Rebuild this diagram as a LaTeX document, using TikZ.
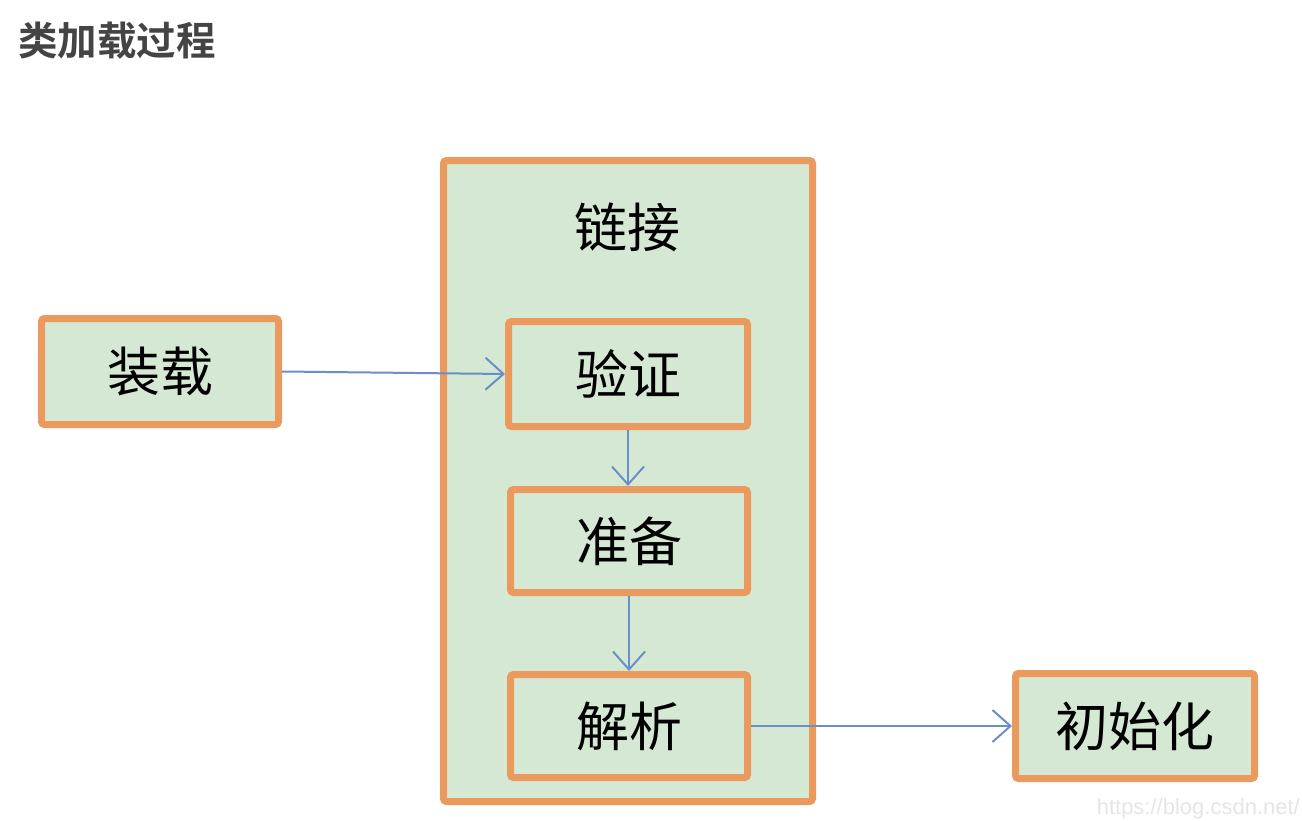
\documentclass[tikz,border=0pt]{standalone}
\usepackage{fontspec}
\newfontfamily\cjk{Noto Sans CJK SC}
\newfontfamily\cjkb{Noto Sans CJK SC Bold}
\setsansfont{Liberation Sans}
\usetikzlibrary{arrows.meta}
\definecolor{boxorange}{HTML}{EB9A5E}
\definecolor{boxfill}{HTML}{D5E8D4}
\definecolor{arrowblue}{HTML}{6A8FC8}
\definecolor{titlegray}{HTML}{444444}
\tikzset{
  stage/.style={draw=boxorange, fill=boxfill, line width=7pt, rounded corners=3pt,
    inner sep=0pt, font=\cjk\fontsize{53}{56}\selectfont, text=black},
  flow/.style={draw=arrowblue, line width=2pt, -{Straight Barb[length=18pt,width=32pt,line width=2pt]}},
}
\begin{document}
\begin{tikzpicture}[x=1pt,y=-1pt]
\useasboundingbox (0,0) rectangle (1302,820);
\node[anchor=west, text=titlegray, font=\cjkb\fontsize{39.5}{42}\selectfont, inner sep=0pt] (title) at (18,41) {类加载过程};
\node[stage, minimum width=369pt, minimum height=641pt] (link) at (628,481) {};
\node[font=\cjk\fontsize{53}{56}\selectfont, inner sep=0pt] (linklabel) at (627,227) {链接};
\node[stage, minimum width=237pt, minimum height=106pt] (load) at (160,371.5) {装载};
\node[stage, minimum width=239pt, minimum height=105pt] (verify) at (628,374) {验证};
\node[stage, minimum width=237pt, minimum height=103pt] (prepare) at (629,541) {准备};
\node[stage, minimum width=237pt, minimum height=103pt] (resolve) at (629,726) {解析};
\node[stage, minimum width=239pt, minimum height=105pt] (init) at (1135,726) {初始化};
\draw[flow] (load.east) -- (verify.west);
\draw[flow] (verify.south) -- (verify.south |- prepare.north);
\draw[flow] (prepare.south) -- (prepare.south |- resolve.north);
\draw[flow] (resolve.east) -- (resolve.east -| init.west);
\node[anchor=east, inner sep=0pt, text=black!10, font=\sffamily\fontsize{22}{24}\selectfont] (wm) at (1300,809) {https://blog.csdn.net/};
\end{tikzpicture}
\end{document}
